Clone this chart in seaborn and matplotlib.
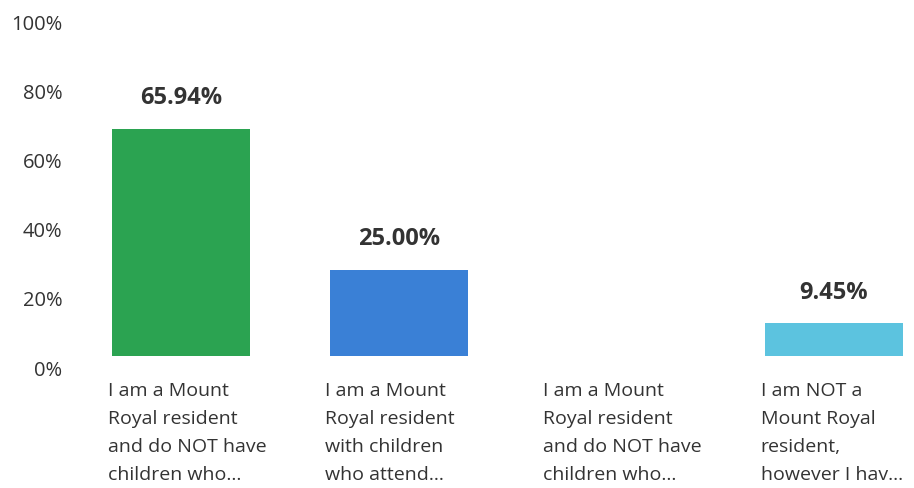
import matplotlib
matplotlib.use("Agg")
import matplotlib.pyplot as plt
import matplotlib.transforms as mtransforms
import seaborn as sns

# Survey answers (category labels are truncated as in the original)
categories = [
    "I am a Mount\nRoyal resident\nand do NOT have\nchildren who...",
    "I am a Mount\nRoyal resident\nwith children\nwho attend...",
    "I am a Mount\nRoyal resident\nand do NOT have\nchildren who... ",
    "I am NOT a\nMount Royal\nresident,\nhowever I hav...",
]
values = [65.94, 25.00, 0.0, 9.45]
bar_texts = ["65.94%", "25.00%", "", "9.45%"]
y_ticks = [0, 20, 40, 60, 80, 100]
y_tick_labels = ["0%", "20%", "40%", "60%", "80%", "100%"]
colors = ["#2ba351", "#3a80d6", "#9a9a9a", "#5cc3df"]

sns.set_theme(style="white")
plt.rcParams["font.family"] = ["Open Sans", "DejaVu Sans"]

fig = plt.figure(figsize=(9.14, 4.89), dpi=100)
ax = fig.add_axes([100 / 914, 132 / 489, 810 / 914, 345 / 489])

bar_w = 0.634
sns.barplot(x=list(range(len(values))), y=values, hue=list(range(len(values))),
            palette=colors, legend=False, width=bar_w, ax=ax, saturation=1)

ax.set_ylim(0, 100)
ax.set_xlim(-0.372, 3.349)
ax.set_yticks(y_ticks)
ax.set_yticklabels(y_tick_labels, fontsize=14.5, color="#333333")
ax.tick_params(axis="y", length=0, pad=27)
ax.set_xticks([])
ax.set_xlabel("")
ax.set_ylabel("")
sns.despine(ax=ax, left=True, bottom=True)

# tick labels sit a little below their gridline in the original
shift = mtransforms.ScaledTranslation(0, -11 / 100, fig.dpi_scale_trans)
for lab in ax.get_yticklabels():
    lab.set_transform(lab.get_transform() + shift)

for cont in ax.containers:
    for bar in cont:
        bar.set_edgecolor("none")

for i, cont in enumerate(ax.containers):
    ax.bar_label(cont, labels=[bar_texts[i]], padding=14, fontsize=17,
                 fontweight="bold", color="#333333")

trans = mtransforms.blended_transform_factory(ax.transData, ax.transAxes)
for i, cat in enumerate(categories):
    ax.text(i - bar_w / 2 - 0.02, -0.073, cat, transform=trans, ha="left", va="top",
            fontsize=14, color="#333333", linespacing=1.72)

fig.savefig("out.png", dpi=100, facecolor="white")
